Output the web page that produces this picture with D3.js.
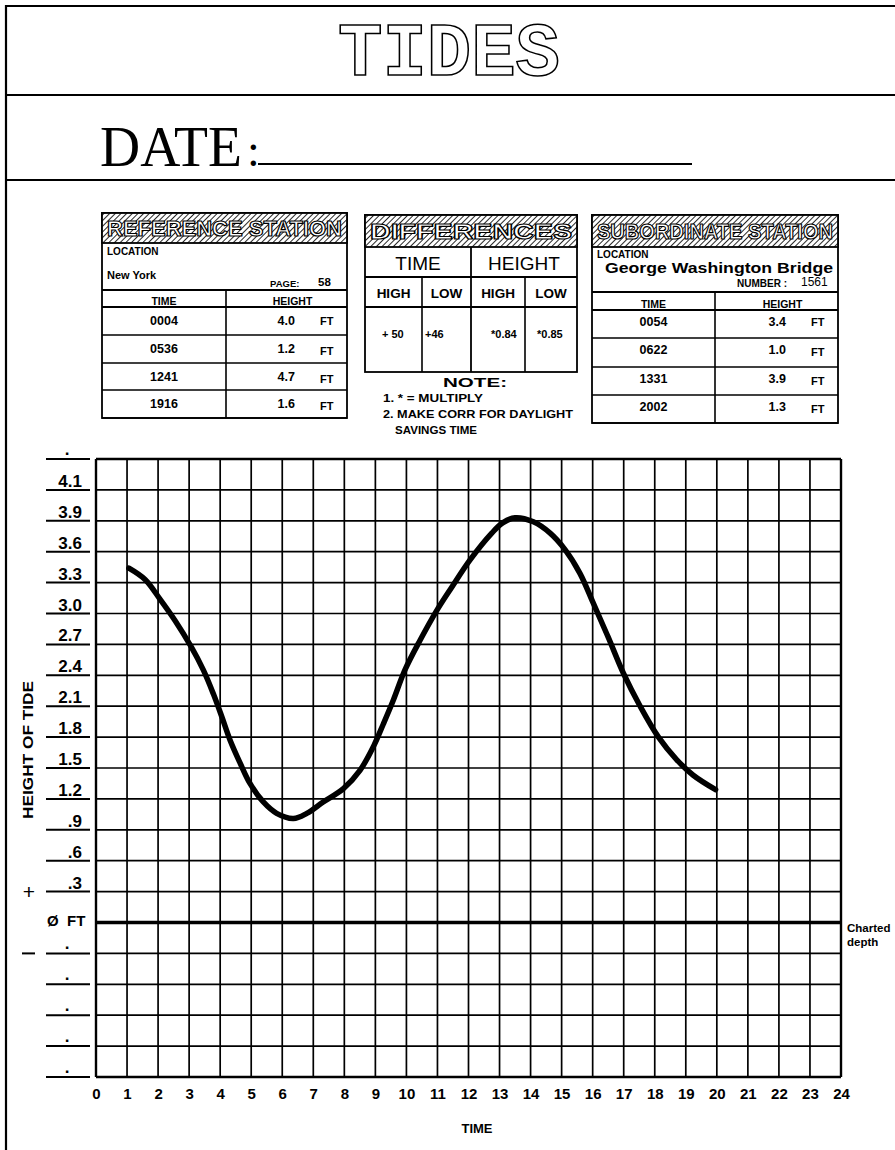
<!DOCTYPE html>
<html>
<head>
<meta charset="utf-8">
<script src="https://cdn.jsdelivr.net/npm/d3@7"></script>
<style>
  html, body { margin: 0; padding: 0; background: #fff; }
  svg { display: block; }
  text { font-family: "Liberation Sans", Arial, Helvetica, sans-serif; fill: #000; }
</style>
</head>
<body>
<svg id="chart" width="895" height="1150"></svg>
<script>
// Tide curve for the subordinate station: hours after midnight and height in feet
const tideHours = [1.06, 1.58, 2.06, 2.55, 3.06, 3.46, 3.78, 4.05, 4.32, 4.64, 4.96, 5.39, 5.82, 6.36,
  6.79, 7.32, 7.97, 8.51, 8.94, 9.26, 9.58, 9.95, 10.44, 10.98, 11.45, 12.05, 12.75, 13.1, 13.5,
  14.09, 14.63, 15.11, 15.59, 16.02, 16.5, 16.99, 17.53, 18.12, 18.71, 19.24, 19.96];
const tideFeet = [3.44, 3.33, 3.14, 2.93, 2.68, 2.45, 2.22, 2.0, 1.77, 1.55, 1.35, 1.17, 1.06, 1.01,
  1.06, 1.17, 1.3, 1.48, 1.71, 1.93, 2.16, 2.45, 2.74, 3.03, 3.25, 3.52, 3.78, 3.88, 3.93,
  3.89, 3.78, 3.62, 3.39, 3.1, 2.77, 2.42, 2.1, 1.8, 1.58, 1.43, 1.29];

// Axis ticks and the form's printed height labels (one per grid row line)
const timeTicks = [0, 1, 2, 3, 4, 5, 6, 7, 8, 9, 10, 11, 12, 13, 14, 15, 16, 17, 18, 19, 20, 21, 22, 23, 24];
const heightLines = [4.5, 4.2, 3.9, 3.6, 3.3, 3.0, 2.7, 2.4, 2.1, 1.8, 1.5, 1.2, 0.9, 0.6, 0.3, 0,
  -0.3, -0.6, -0.9, -1.2, -1.5];
const heightLabels = [".", "4.1", "3.9", "3.6", "3.3", "3.0", "2.7", "2.4", "2.1", "1.8", "1.5", "1.2",
  ".9", ".6", ".3", "Ø FT", ".", ".", ".", ".", "."];

// Tide table entries
const refTimes = ["0004", "0536", "1241", "1916"];
const refHeights = ["4.0", "1.2", "4.7", "1.6"];
const subTimes = ["0054", "0622", "1331", "2002"];
const subHeights = ["3.4", "1.0", "3.9", "1.3"];
const diffHeads = ["HIGH", "LOW", "HIGH", "LOW"];
const diffValues = ["+ 50", "+46", "*0.84", "*0.85"];
const noteLines = ["1.  *  = MULTIPLY", "2.  MAKE CORR FOR DAYLIGHT", "SAVINGS TIME"];

const svg = d3.select("#chart");
const ink = "#000";

// hatch used behind the table titles
const defs = svg.append("defs");
const pat = defs.append("pattern")
  .attr("id", "hatch").attr("patternUnits", "userSpaceOnUse")
  .attr("width", 4).attr("height", 4).attr("patternTransform", "rotate(45)");
pat.append("rect").attr("width", 4).attr("height", 4).attr("fill", "#fff");
pat.append("line").attr("x1", 0).attr("y1", 0).attr("x2", 0).attr("y2", 4)
  .attr("stroke", ink).attr("stroke-width", 1.7);

function line(g, x1, y1, x2, y2, w) {
  return g.append("line").attr("x1", x1).attr("y1", y1).attr("x2", x2).attr("y2", y2)
    .attr("stroke", ink).attr("stroke-width", w);
}
function txt(g, x, y, s, size, opts = {}) {
  const t = g.append("text").attr("x", x).attr("y", y).text(s)
    .attr("font-size", size)
    .attr("font-weight", opts.bold ? "bold" : "normal")
    .attr("text-anchor", opts.anchor || "start");
  if (opts.family) t.style("font-family", opts.family);
  if (opts.len) t.attr("textLength", opts.len).attr("lengthAdjust", "spacingAndGlyphs");
  return t;
}

// ---------- page frame and heading ----------
const head = svg.append("g");
line(head, 6, 6, 895, 6, 2.2);
line(head, 6, 95, 895, 95, 2.2);
line(head, 6, 180, 895, 180, 2.2);
line(head, 6, 5, 6, 1150, 2.2);

txt(head, 449, 75, "TIDES", 76, { anchor: "middle", bold: true, family: "'Liberation Mono', 'DejaVu Sans Mono', monospace", len: 222 })
  .style("fill", "#fff").attr("stroke", ink).attr("stroke-width", 1.6);

txt(head, 100, 166, "DATE", 56, { family: "'Liberation Serif', 'Times New Roman', serif", len: 142 });
txt(head, 247, 166, ":", 46, { family: "'Liberation Serif', 'Times New Roman', serif" });
line(head, 258, 164, 692, 164, 2);

// ---------- table title strip ----------
function titleStrip(g, x0, x1, y0, y1, title) {
  g.append("rect").attr("x", x0).attr("y", y0).attr("width", x1 - x0).attr("height", y1 - y0)
    .attr("fill", "url(#hatch)").attr("stroke", ink).attr("stroke-width", 1.8);
  txt(g, x0 + 5, (y0 + y1) / 2 + 8, title, 22, { bold: true, len: x1 - x0 - 10 })
    .style("fill", "#fff").attr("stroke", ink).attr("stroke-width", 1.2);
}

// ---------- station boxes ----------
function stationBox(o) {
  const g = svg.append("g");
  const bottom = o.rowB[o.rowB.length - 1];
  g.append("rect").attr("x", o.x0).attr("y", o.top).attr("width", o.x1 - o.x0)
    .attr("height", bottom - o.top).attr("fill", "#fff").attr("stroke", ink).attr("stroke-width", 1.8);
  titleStrip(g, o.x0, o.x1, o.top, o.hatchB, o.title);
  line(g, o.x0, o.infoB, o.x1, o.infoB, 1.8);
  line(g, o.x0, o.headB, o.x1, o.headB, 1.8);
  o.rowB.forEach(y => line(g, o.x0, y, o.x1, y, 1.7));
  line(g, o.div, o.infoB, o.div, bottom, 1.6);
  const cT = (o.x0 + o.div) / 2, cH = (o.div + o.x1) / 2;
  txt(g, cT, o.headB - 2, "TIME", 10.5, { bold: true, anchor: "middle" });
  txt(g, cH + 6, o.headB - 2, "HEIGHT", 10.5, { bold: true, anchor: "middle" });
  o.times.forEach((t, i) => {
    const top = i === 0 ? o.headB : o.rowB[i - 1];
    txt(g, cT, top + o.rowBase, t, 12.5, { bold: true, anchor: "middle" });
    txt(g, o.x1 - 52, top + o.rowBase, o.heights[i], 12.5, { bold: true, anchor: "end" });
    txt(g, o.x1 - 27, top + o.rowBase + (i === 0 ? 0 : 2), "FT", 11, { bold: true });
  });
  return g;
}

const ref = stationBox({
  x0: 102, x1: 347, top: 213, hatchB: 243, infoB: 290, headB: 307,
  rowB: [335, 363, 390, 418], div: 226, rowBase: 18,
  title: "REFERENCE STATION", times: refTimes, heights: refHeights
});
txt(ref, 107, 255, "LOCATION", 10, { bold: true });
txt(ref, 107, 279, "New York", 11, { bold: true });
txt(ref, 270, 287, "PAGE:", 9.5, { bold: true });
txt(ref, 318, 286, "58", 11.5, { bold: true });

const sub = stationBox({
  x0: 592, x1: 838, top: 215, hatchB: 247, infoB: 292, headB: 310,
  rowB: [338, 367, 395, 423], div: 715, rowBase: 16,
  title: "SUBORDINATE STATION", times: subTimes, heights: subHeights
});
txt(sub, 597, 258, "LOCATION", 10, { bold: true });
txt(sub, 605, 273, "George Washington Bridge", 14.5, { bold: true, len: 228 });
txt(sub, 737, 287, "NUMBER :", 10, { bold: true });
txt(sub, 801, 286, "1561", 12);

// ---------- differences box ----------
const diff = svg.append("g");
{
  const x0 = 365, x1 = 577, top = 215, hb = 247, r1 = 277, r2 = 307, r3 = 372;
  diff.append("rect").attr("x", x0).attr("y", top).attr("width", x1 - x0).attr("height", r3 - top)
    .attr("fill", "#fff").attr("stroke", ink).attr("stroke-width", 1.8);
  titleStrip(diff, x0, x1, top, hb, "DIFFERENCES");
  line(diff, x0, r1, x1, r1, 1.8);
  line(diff, x0, r2, x1, r2, 1.8);
  line(diff, 471, hb, 471, r3, 1.8);
  line(diff, 422, r1, 422, r3, 1.6);
  line(diff, 525, r1, 525, r3, 1.6);
  txt(diff, 418, 270, "TIME", 19, { anchor: "middle" });
  txt(diff, 524, 270, "HEIGHT", 19, { anchor: "middle" });
  const cols = [365, 422, 471, 525, 577];
  const pads = [17, 3, 20, 12];
  diffHeads.forEach((h, i) => txt(diff, (cols[i] + cols[i + 1]) / 2, 298, h, 13.5, { bold: true, anchor: "middle" }));
  diffValues.forEach((v, i) => txt(diff, cols[i] + pads[i], 338, v, 11, { bold: true }));
  txt(diff, 475, 387, "NOTE:", 12, { bold: true, anchor: "middle", len: 64 });
  txt(diff, 383, 402, noteLines[0], 10, { bold: true, len: 100 });
  txt(diff, 383, 418, noteLines[1], 10, { bold: true, len: 190 });
  txt(diff, 395, 434, noteLines[2], 10, { bold: true, len: 82 });
}

// ---------- tide plot ----------
const x = d3.scaleLinear().domain([0, 24]).range([96, 841]);
const y = d3.scaleLinear().domain([-1.5, 4.5]).range([1077, 459]);
const plot = svg.append("g");

// grid
plot.selectAll("line.v").data(timeTicks).join("line").attr("class", "v")
  .attr("x1", d => x(d)).attr("x2", d => x(d)).attr("y1", y(4.5)).attr("y2", y(-1.5))
  .attr("stroke", ink).attr("stroke-width", d => (d === 0 || d === 24) ? 2.4 : 1.7);
plot.selectAll("line.h").data(heightLines).join("line").attr("class", "h")
  .attr("x1", x(0)).attr("x2", x(24)).attr("y1", d => y(d)).attr("y2", d => y(d))
  .attr("stroke", ink).attr("stroke-width", d => d === 0 ? 3.6 : (d === 4.5 || d === -1.5) ? 2.4 : 1.7);

// height labels with their short rules
const yl = plot.append("g");
heightLines.forEach((v, i) => {
  const lab = heightLabels[i], py = y(v);
  if (v === 0) {
    const parts = lab.split(" ");
    txt(yl, 47, py + 3, parts[0], 15, { bold: true });
    txt(yl, 67, py + 3, parts[1], 15, { bold: true });
    return;
  }
  line(yl, 46, py, 90, py, 2);
  if (lab === ".") txt(yl, 67, py - 4, lab, 17, { bold: true, anchor: "middle" });
  else txt(yl, 82, py - 3, lab, 17, { bold: true, anchor: "end" });
});
txt(yl, 29, y(0.3) + 7, "+", 21, { anchor: "middle" });
line(yl, 22, y(-0.3), 35, y(-0.3), 2);
yl.append("text").attr("transform", `translate(33,750) rotate(-90)`)
  .attr("text-anchor", "middle").attr("font-size", 15).attr("font-weight", "bold")
  .attr("textLength", 138).attr("lengthAdjust", "spacingAndGlyphs").text("HEIGHT OF TIDE");

// time axis
const xAxis = d3.axisBottom(x).tickValues(timeTicks).tickSize(0).tickPadding(11).tickFormat(d3.format("d"));
const xg = plot.append("g").attr("transform", `translate(0,${y(-1.5)})`).call(xAxis);
xg.select(".domain").remove();
xg.selectAll("text").attr("font-size", 15).attr("font-weight", "bold")
  .style("font-family", "'Liberation Sans Narrow', 'Liberation Sans', Arial, sans-serif").attr("fill", ink);
txt(plot, 477, 1133, "TIME", 13, { bold: true, anchor: "middle" });

// charted depth note beside the zero line
txt(plot, 847, y(0) + 9, "Charted", 11.5, { bold: true });
txt(plot, 847, y(0) + 23, "depth", 11.5, { bold: true });

// tide curve
const curve = d3.line().x(d => x(d[0])).y(d => y(d[1])).curve(d3.curveCatmullRom.alpha(0.5));
plot.append("path").datum(tideHours.map((h, i) => [h, tideFeet[i]]))
  .attr("d", curve).attr("fill", "none").attr("stroke", ink)
  .attr("stroke-width", 5.5).attr("stroke-linecap", "round").attr("stroke-linejoin", "round");
</script>
</body>
</html>
